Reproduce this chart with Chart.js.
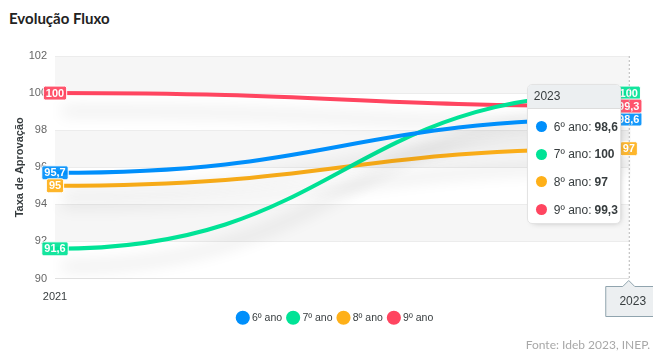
<!DOCTYPE html>
<html>
<head>
<meta charset="utf-8">
<script src="https://cdn.jsdelivr.net/npm/chart.js@4.4.0/dist/chart.umd.min.js"></script>
<style>
  html, body { margin: 0; padding: 0; background: #fff; width: 653px; height: 351px; overflow: hidden; }
  #wrap { position: relative; width: 653px; height: 351px; }
  #grafico { position: absolute; left: 0; top: 0; }
  .titulo { position: absolute; left: 9px; top: 9px; font: bold 15px Lato, sans-serif; color: #222; }
  .fonte { position: absolute; right: 3px; top: 337px; font: 12px Lato, sans-serif; color: #a8a8a8; }
  #tip { position: absolute; width: 94px; box-sizing: border-box; background: #fff; border: 1px solid #e3e3e3;
         border-radius: 5px; box-shadow: 2px 2px 6px -4px #999; font: 12px 'Liberation Sans', Arial, sans-serif;
         color: #373d3f; opacity: 0; overflow: hidden; }
  .tt-title { background: #eceff1; border-bottom: 1px solid #ddd; padding: 5px 6px; line-height: 13px; }
  .tt-body { padding-top: 4px; }
  .tt-row { display: flex; align-items: center; height: 27.6px; padding: 0 4px 0 8px; white-space: nowrap; }
  .tt-dot { width: 11px; height: 11px; border-radius: 50%; margin-right: 7px; flex: none; }
  .tt-val { font-weight: bold; margin-left: 3px; }
</style>
</head>
<body>
<div id="wrap">
  <div class="titulo">Evolução Fluxo</div>
  <canvas id="grafico" width="653" height="351"></canvas>
  <div id="tip"></div>
  <div class="fonte">Fonte: Ideb 2023, INEP.</div>
</div>
<script>
const anos = ['2021', '2023'];
const nomes = ['6º ano', '7º ano', '8º ano', '9º ano'];
const ano6 = [95.7, 98.6];
const ano7 = [91.6, 100];
const ano8 = [95, 97];
const ano9 = [100, 99.3];
const cores = ['#008FFB', '#00E396', '#FEB019', '#FF4560'];
const yMin = 90;
const yMax = 102;
const yPasso = 2;

Chart.defaults.font.family = "'Liberation Sans', Arial, sans-serif";
Chart.defaults.color = '#373d3f';

const fmt = (v) => String(v).replace('.', ',');

// curva suave com tangentes horizontais nos pontos (como o "smooth" do ApexCharts)
const curvaS = {
  id: 'curvaS',
  beforeDatasetsDraw(chart) {
    chart.data.datasets.forEach((ds, i) => {
      const meta = chart.getDatasetMeta(i);
      const pts = meta.data;
      pts.forEach((p, j) => {
        const ant = pts[j - 1];
        const prox = pts[j + 1];
        p.cp1x = ant ? p.x - (p.x - ant.x) / 2 : p.x;
        p.cp1y = p.y;
        p.cp2x = prox ? p.x + (prox.x - p.x) / 2 : p.x;
        p.cp2y = p.y;
      });
      meta.dataset._pointsUpdated = true;
      meta.dataset._path = undefined;
    });
  }
};

const faixas = {
  id: 'faixas',
  beforeDraw(chart) {
    const {ctx, chartArea, scales} = chart;
    const y = scales.y;
    ctx.save();
    ctx.fillStyle = '#f6f6f6';
    let n = 0;
    for (let v = yMax; v > yMin; v -= yPasso) {
      if (n % 2 === 0) {
        const y1 = y.getPixelForValue(v);
        const y2 = y.getPixelForValue(v - yPasso);
        ctx.fillRect(chartArea.left, y1, chartArea.right - chartArea.left, y2 - y1);
      }
      n++;
    }
    ctx.restore();
  }
};

const sombra = {
  id: 'sombra',
  beforeDatasetDraw(chart) {
    const ctx = chart.ctx;
    ctx.save();
    ctx.shadowColor = 'rgba(0,0,0,0.18)';
    ctx.shadowBlur = 16;
    ctx.shadowOffsetX = 7;
    ctx.shadowOffsetY = 18;
  },
  afterDatasetDraw(chart) {
    chart.ctx.restore();
  }
};

const rotulos = {
  id: 'rotulos',
  afterDatasetsDraw(chart) {
    const ctx = chart.ctx;
    ctx.save();
    ctx.font = "bold 11px 'Liberation Sans', Arial, sans-serif";
    ctx.textAlign = 'center';
    ctx.textBaseline = 'middle';
    chart.data.datasets.forEach((ds, i) => {
      chart.getDatasetMeta(i).data.forEach((p, j) => {
        const txt = fmt(ds.data[j]);
        const w = ctx.measureText(txt).width + 5;
        const h = 14;
        ctx.beginPath();
        ctx.roundRect(p.x - w / 2, p.y - h / 2, w, h, 2);
        ctx.fillStyle = cores[i];
        ctx.globalAlpha = 0.92;
        ctx.fill();
        ctx.globalAlpha = 1;
        ctx.strokeStyle = '#fff';
        ctx.lineWidth = 1;
        ctx.stroke();
        ctx.fillStyle = '#fff';
        ctx.fillText(txt, p.x, p.y + 0.5);
      });
    });
    ctx.restore();
  }
};

const mira = {
  id: 'mira',
  afterDraw(chart) {
    const ativos = chart.tooltip.getActiveElements();
    if (!ativos.length) return;
    const {ctx, chartArea} = chart;
    const x = ativos[0].element.x;
    const rotulo = chart.data.labels[ativos[0].index];
    ctx.save();
    ctx.strokeStyle = '#b6b6b6';
    ctx.lineWidth = 1;
    ctx.setLineDash([2, 2]);
    ctx.beginPath();
    ctx.moveTo(x + 0.5, chartArea.top);
    ctx.lineTo(x + 0.5, chartArea.bottom);
    ctx.stroke();
    ctx.setLineDash([]);
    // caixa do eixo x
    const top = chartArea.bottom + 2;
    const bx = x - 23;
    ctx.beginPath();
    ctx.moveTo(bx, top + 6);
    ctx.lineTo(x - 6, top + 6);
    ctx.lineTo(x, top);
    ctx.lineTo(x + 6, top + 6);
    ctx.lineTo(bx + 60, top + 6);
    ctx.lineTo(bx + 60, top + 36);
    ctx.lineTo(bx, top + 36);
    ctx.closePath();
    ctx.fillStyle = '#eceff1';
    ctx.fill();
    ctx.strokeStyle = '#90a4ae';
    ctx.stroke();
    ctx.fillStyle = '#373d3f';
    ctx.font = "12px 'Liberation Sans', Arial, sans-serif";
    ctx.textAlign = 'center';
    ctx.textBaseline = 'middle';
    ctx.fillText(rotulo, x + 4, top + 21);
    ctx.restore();
  }
};

const legendaCentro = {
  id: 'legendaCentro',
  afterLayout(chart) {
    chart.legend.left += 20;
    chart.legend.right += 20;
  }
};

function tooltipExterno(context) {
  const tip = document.getElementById('tip');
  const t = context.tooltip;
  if (t.opacity === 0) { tip.style.opacity = 0; return; }
  let html = '<div class="tt-title">' + t.title[0] + '</div><div class="tt-body">';
  t.dataPoints.forEach((dp) => {
    html += '<div class="tt-row"><span class="tt-dot" style="background:' + cores[dp.datasetIndex] + '"></span>' +
      '<span>' + dp.dataset.label + ': </span><span class="tt-val">' + fmt(dp.parsed.y) + '</span></div>';
  });
  html += '</div>';
  tip.innerHTML = html;
  tip.style.opacity = 1;
  tip.style.left = (t.caretX - 102) + 'px';
  tip.style.top = (context.chart.chartArea.top + 28) + 'px';
}

const series = [ano6, ano7, ano8, ano9];
const ctx = document.getElementById('grafico');

const chart = new Chart(ctx, {
  type: 'line',
  data: {
    labels: anos,
    datasets: series.map((dados, i) => ({
      label: nomes[i],
      data: dados,
      borderColor: cores[i],
      backgroundColor: cores[i],
      borderWidth: 4,
      tension: 0.4,
      fill: false,
      pointRadius: 0,
      pointHoverRadius: 0,
      pointHitRadius: 0,
    })),
  },
  options: {
    responsive: false,
    animation: false,
    layout: { padding: { top: 56, right: 21, bottom: 18, left: 0 } },
    interaction: { mode: 'index', intersect: false },
    scales: {
      x: {
        offset: false,
        grid: { display: false, drawTicks: false },
        border: { display: true, color: '#e0e0e0' },
        ticks: { padding: 12, color: '#373d3f', font: { size: 11 }, maxRotation: 0 },
        afterFit: (s) => { s.height = 27; },
      },
      y: {
        min: yMin,
        max: yMax,
        ticks: { stepSize: yPasso, padding: 8, color: '#666', font: { size: 11 } },
        grid: { color: '#ececec', drawTicks: false },
        border: { display: false },
        title: {
          display: true,
          text: 'Taxa de Aprovação',
          color: '#373d3f',
          font: { size: 11, weight: 'bold' },
          padding: { top: 13, bottom: 0 },
        },
        afterFit: (s) => { s.width = 55; },
      },
    },
    plugins: {
      legend: {
        position: 'bottom',
        labels: {
          usePointStyle: true,
          pointStyle: 'circle',
          boxHeight: 7.2,
          boxWidth: 8,
          padding: 7,
          color: '#373d3f',
          font: { size: 10.5 },
        },
      },
      tooltip: { enabled: false, external: tooltipExterno },
    },
  },
  plugins: [faixas, curvaS, sombra, rotulos, mira, legendaCentro],
});

const ativos = chart.data.datasets.map((d, i) => ({ datasetIndex: i, index: 1 }));
chart.setActiveElements(ativos);
chart.tooltip.setActiveElements(ativos, { x: chart.scales.x.getPixelForValue(1), y: chart.chartArea.top + 60 });
chart.update();
</script>
</body>
</html>
